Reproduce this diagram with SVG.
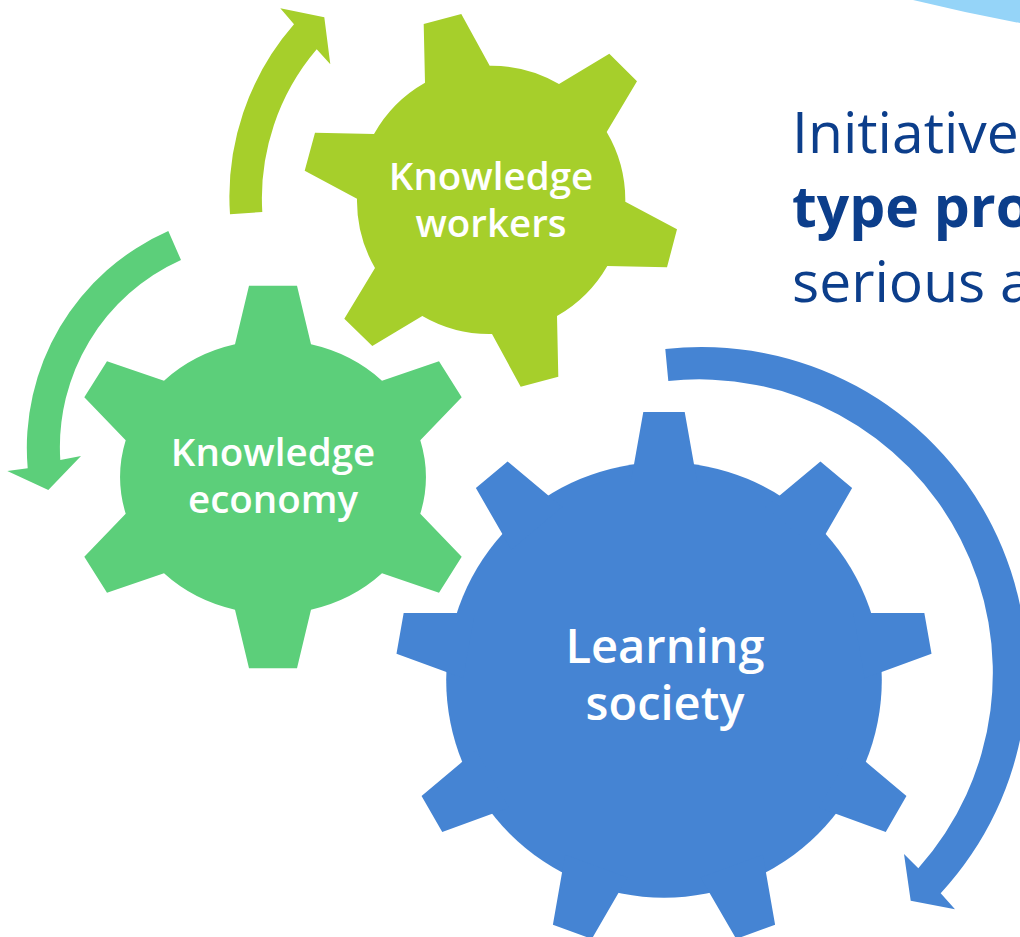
<svg xmlns="http://www.w3.org/2000/svg" xmlns:xlink="http://www.w3.org/1999/xlink" width="1020" height="937" viewBox="0 0 1020 937">
  <defs>
    <style>
      .lime { fill: #A6CF2B; }
      .mint { fill: #5CCF7A; }
      .azure { fill: #4584D3; }
      .label { fill: #FFFFFF; font-family: "Open Sans", "Noto Sans", "Liberation Sans", sans-serif; font-weight: 600; text-anchor: middle; }
      .heading { fill: #0C3E8B; font-family: "Open Sans", "Noto Sans", "Liberation Sans", sans-serif; font-size: 57px; }
    </style>
    <!-- one tooth of the large nine-tooth gear, pointing up from its hub -->
    <polygon id="tooth-large" points="-20.7,-268 20.7,-268 30,-215.7 33.2,-198 -33.2,-198 -30,-215.7"/>
  </defs>

  <!-- light blue corner band -->
  <path d="M 913,0 Q 966,13 1020,23 L 1020,0 Z" fill="#95D4F8"/>

  <!-- heading text running off the right edge -->
  <g id="heading">
    <text class="heading" x="792" y="153">Initiative</text>
    <text class="heading" x="792" y="227" font-weight="700">type pro</text>
    <text class="heading" x="792" y="302">serious a</text>
  </g>

  <!-- curved arrows around the gears -->
  <g id="connectors">
    <path class="lime" d="M 230,214.3 A 262 262 0 0 1 294,24.3 L 280.3,8.3 L 324.3,17.3 L 330.3,64.3 L 316.7,49.3 A 230 230 0 0 0 262.3,212 Z"/>
    <path class="mint" d="M 168.3,231 A 237 237 0 0 0 27.7,468.3 L 7.3,471 L 48.3,490 L 81,456 L 60.3,460 A 205 205 0 0 1 181,260 Z"/>
    <path class="azure" d="M 665.3,349 A 325.5 325.5 0 0 1 940.7,893.3 L 955,909.3 L 910.7,900.7 L 904,854 L 918.3,868.3 A 293.5 293.5 0 0 0 668.3,381 Z"/>
  </g>

  <!-- Knowledge workers gear -->
  <g id="gear-workers">
    <path class="lime" d="M 423.7,24 L 461.3,14 L 489.7,65.7 A 134 134 0 0 1 559,84 L 609.3,53.7 L 637,81.3 L 606.7,132 A 134 134 0 0 1 625.3,201.7 L 677,229.3 L 667,267.3 L 607.3,266 A 134 134 0 0 1 557,316 L 558.3,376.7 L 520.7,386.7 L 492,334 A 134 134 0 0 1 422.3,316 L 372.3,346 L 344.3,318.7 L 375,268 A 134 134 0 0 1 357,198.7 L 304.7,170.7 L 315,132.7 L 374,134 A 134 134 0 0 1 425,82.7 Z"/>
    <text class="label" x="491" y="190" font-size="38.5">Knowledge</text>
    <text class="label" x="491" y="236.5" font-size="38.5">workers</text>
  </g>

  <!-- Knowledge economy gear -->
  <g id="gear-economy">
    <path class="mint" d="M 249,285.7 L 297,285.7 L 311,344.3 A 152 137 0 0 1 382,380.7 L 439,361.3 L 461.7,397.3 L 420.3,440.3 A 152 137 0 0 1 420.3,513.7 L 461.7,556.7 L 439,592.7 L 382,573.3 A 152 137 0 0 1 311,609.7 L 297,668.3 L 249,668.3 L 235,609.7 A 152 137 0 0 1 164,573.3 L 107,592.7 L 84.3,556.7 L 125.7,513.7 A 152 137 0 0 1 125.7,440.3 L 84.3,397.3 L 107,361.3 L 164,380.7 A 152 137 0 0 1 235,344.3 Z"/>
    <text class="label" x="273" y="466" font-size="38.5">Knowledge</text>
    <text class="label" x="273" y="512.5" font-size="38.5">economy</text>
  </g>

  <!-- Learning society gear -->
  <g id="gear-society" transform="translate(664,680)">
    <g class="azure">
      <circle r="217.8"/>
      <use xlink:href="#tooth-large"/>
      <use xlink:href="#tooth-large" transform="rotate(40)"/>
      <use xlink:href="#tooth-large" transform="rotate(80)"/>
      <use xlink:href="#tooth-large" transform="rotate(120)"/>
      <use xlink:href="#tooth-large" transform="rotate(160)"/>
      <use xlink:href="#tooth-large" transform="rotate(200)"/>
      <use xlink:href="#tooth-large" transform="rotate(240)"/>
      <use xlink:href="#tooth-large" transform="rotate(280)"/>
      <use xlink:href="#tooth-large" transform="rotate(320)"/>
    </g>
    <text class="label" x="1" y="-17" font-size="47">Learning</text>
    <text class="label" x="1" y="40" font-size="47">society</text>
  </g>
</svg>
